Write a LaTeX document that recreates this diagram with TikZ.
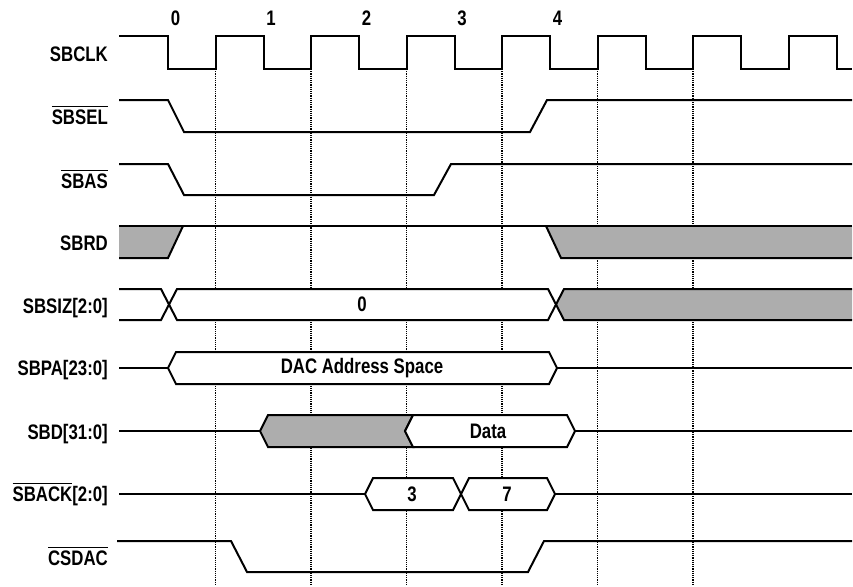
\documentclass[tikz,border=0pt]{standalone}
\usepackage{fontspec}
\setmainfont{Liberation Sans}[FakeStretch=0.8]
\newcommand\ovl[1]{\vbox{\hrule height 1.6pt\kern 2.4pt\hbox{#1}}}
\tikzset{
  signal/.style = {line width=2pt, line join=miter},
  tick/.style = {densely dotted, line width=1.2pt},
  undef/.style = {fill=black!32},
  bus/.style = {signal, fill=white},
  lbl/.style = {anchor=base east, inner sep=0pt, font=\bfseries\fontsize{21}{22}\selectfont},
  num/.style = {inner sep=0pt, font=\bfseries\fontsize{21}{22}\selectfont}
}

\begin{document}
\begin{tikzpicture}[x=1pt,y=-1pt]
  \useasboundingbox (0,0) rectangle (853,586);
  \foreach \k in {0,...,5}
    \draw[tick] (215.5+95.5*\k,69) -- (215.5+95.5*\k,586);
  \foreach \n/\t/\y in {clk/SBCLK/54, sel/{\ovl{SBSEL}}/117, as/{\ovl{SBAS}}/181,
      rd/SBRD/243, siz/{SBSIZ[2:0]}/306, pa/{SBPA[23:0]}/368, d/{SBD[31:0]}/432,
      ack/{\ovl{SBACK}[2:0]}/494, cs/{\ovl{CSDAC}}/558}
    \node[lbl] (l\n) at (108,\y+7.5) {\t};
  \foreach \k in {0,...,4}
    \node[num] (c\k) at (175.5+95.5*\k,18) {\k};
  % clock
  \draw[signal] (119,36) \foreach \k in {0,...,6} { -- (168+95.5*\k,36) -- ++(0,33) -- ++(47.5,0) -- ++(0,-33) }
    -- (836.5,36) -- (836.5,69) -- (852,69);
  % strobes
  \draw[signal] (119,100) -- (168,100) -- (184,132) -- (530,132) -- (547,100) -- (852,100);
  \draw[signal] (119,164) -- (168,164) -- (184,195) -- (434,195) -- (451,164) -- (852,164);
  \fill[undef] (119,226) -- (183,226) -- (168,258) -- (119,258) -- cycle;
  \fill[undef] (546,226) -- (852,226) -- (852,258) -- (561,258) -- cycle;
  \draw[signal] (119,226) -- (852,226);
  \draw[signal] (119,258) -- (168,258) -- (183,226);
  \draw[signal] (546,226) -- (561,258) -- (852,258);
  % size
  \fill[undef] (556,304.5) -- (564,289) -- (852,289) -- (852,320) -- (564,320) -- cycle;
  \fill[white] (169,304.5) -- (177,289) -- (548,289) -- (556,304.5) -- (548,320) -- (177,320) -- cycle;
  \draw[signal] (119,289) -- (161,289) -- (177,320) -- (548,320) -- (564,289) -- (852,289);
  \draw[signal] (119,320) -- (161,320) -- (177,289) -- (548,289) -- (564,320) -- (852,320);
  \node[num] (vsiz) at (362,304.5) {0};
  % address
  \draw[signal] (119,368) -- (168,368);
  \draw[bus] (168,368) -- (176,352) -- (549,352) -- (557,368) -- (549,384) -- (176,384) -- cycle;
  \draw[signal] (557,368) -- (852,368);
  \node[num] (vpa) at (362,368) {DAC Address Space};
  % data
  \draw[signal] (119,431) -- (260,431);
  \draw[signal, undef] (260,431) -- (268,415) -- (413,415) -- (405,431) -- (413,447) -- (268,447) -- cycle;
  \draw[bus] (405,431) -- (413,415) -- (567,415) -- (575,431) -- (567,447) -- (413,447) -- cycle;
  \draw[signal] (575,431) -- (852,431);
  \node[num] (vd) at (488,431) {Data};
  % acknowledge
  \draw[signal] (119,494) -- (365,494);
  \draw[bus] (365,494) -- (373,478) -- (453,478) -- (461,494) -- (453,510) -- (373,510) -- cycle;
  \draw[bus] (461,494) -- (469,478) -- (547,478) -- (555,494) -- (547,510) -- (469,510) -- cycle;
  \draw[signal] (555,494) -- (852,494);
  \node[num] (va3) at (412,494) {3};
  \node[num] (va7) at (507,494) {7};
  % chip select
  \draw[signal] (117,541) -- (231,541) -- (247,572) -- (528,572) -- (544,541) -- (852,541);
\end{tikzpicture}
\end{document}
